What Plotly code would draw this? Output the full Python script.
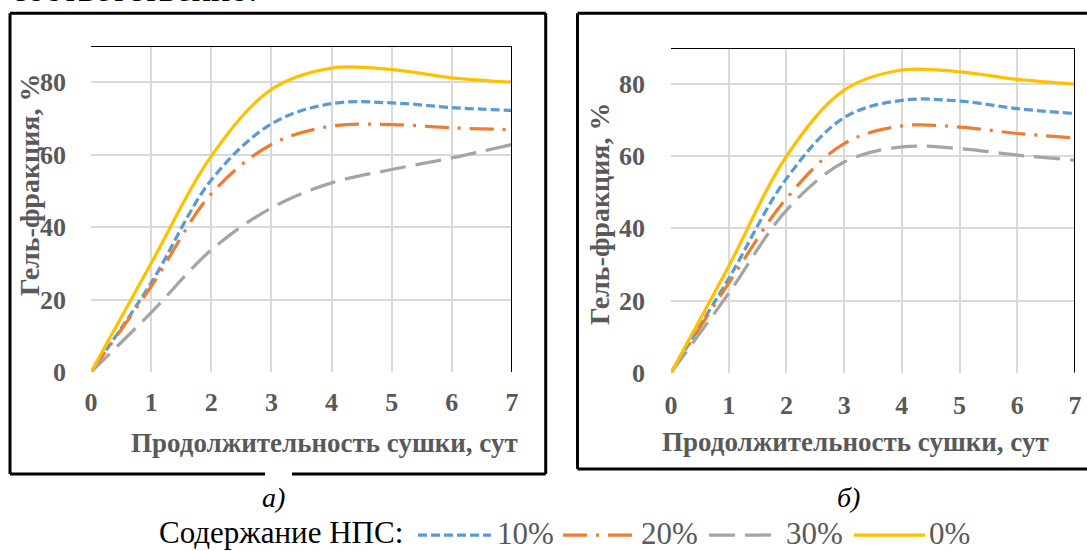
import plotly.graph_objects as go

W, H = 1087, 551

# ---------------- data ----------------
days = [0, 1, 2, 3, 4, 5, 6, 7]
y_ticks = [0, 20, 40, 60, 80]

# panel а)
a_10 = [0, 24.6, 53.0, 68.5, 74.1, 74.3, 73.0, 72.2]
a_20 = [0, 23.6, 49.2, 62.8, 67.9, 68.3, 67.4, 66.9]
a_30 = [0, 16.4, 33.7, 45.3, 52.2, 55.9, 59.1, 62.8]
a_0 = [0, 30.0, 59.6, 78.0, 83.9, 83.5, 81.2, 80.0]

# panel б)
b_10 = [0, 26.1, 53.8, 70.7, 75.5, 75.3, 73.2, 71.8]
b_20 = [0, 24.8, 48.3, 63.5, 68.4, 68.1, 66.3, 65.1]
b_30 = [0, 22.0, 45.0, 58.4, 62.6, 62.1, 60.3, 58.9]
b_0 = [0, 29.5, 60.0, 78.3, 83.9, 83.4, 81.3, 80.0]

series_names = ["10%", "20%", "30%", "0%"]
colors = ["#5B9BD5", "#ED7D31", "#A5A5A5", "#FFC000"]
dashes = ["9px,4px", "24px,9px,3px,9px", "26px,10px", "solid"]

x_title = "Продолжительность сушки, сут"
y_title = "Гель-фракция, %"
legend_title = "Содержание НПС:"
panel_labels = ["а)", "б)"]
top_text = "соответственно."

SERIF = "Liberation Serif"
GRAY_TXT = "#595959"


def px(x):
    return x / W


def py(y):
    return 1 - y / H


fig = go.Figure()

panels = [
    ("x", "y", [a_10, a_20, a_30, a_0]),
    ("x2", "y2", [b_10, b_20, b_30, b_0]),
]
for xa, ya, data in panels:
    for name, vals, col, dsh in zip(series_names, data, colors, dashes):
        fig.add_trace(go.Scatter(
            x=days, y=vals, mode="lines", name=name, showlegend=False,
            line=dict(color=col, width=3.25, dash=dsh, shape="spline", smoothing=1.0),
            xaxis=xa, yaxis=ya, hoverinfo="skip",
        ))

axis_common = dict(
    showgrid=True, gridcolor="#D9D9D9", gridwidth=1.6,
    zeroline=False, showline=False, ticks="", automargin=False,
    tickfont=dict(family=SERIF, size=26, color=GRAY_TXT, weight="bold"),
)

# plot-area boxes in pixels
L = dict(x0=91, x1=512, y0=46, y1=372)
R = dict(x0=671, x1=1075, y0=48, y1=372.7)

fig.update_layout(
    width=W, height=H, autosize=False,
    margin=dict(l=0, r=0, t=0, b=0, pad=0, autoexpand=False),
    paper_bgcolor="white", plot_bgcolor="white",
    showlegend=False,
    xaxis=dict(domain=[px(L["x0"]), px(L["x1"])], range=[0, 7], tickvals=days,
               anchor="y", ticklabelstandoff=12, **axis_common),
    yaxis=dict(domain=[py(L["y1"]), py(L["y0"])], range=[0, 90], tickvals=y_ticks,
               anchor="x", ticklabelstandoff=24, **axis_common),
    xaxis2=dict(domain=[px(R["x0"]), px(R["x1"])], range=[0, 7], tickvals=days,
                anchor="y2", ticklabelstandoff=14, **axis_common),
    yaxis2=dict(domain=[py(R["y1"]), py(R["y0"])], range=[0, 90], tickvals=y_ticks,
                anchor="x2", ticklabelstandoff=25, **axis_common),
)

shapes = []
# black top / right plot borders
for xr, yr in (("x", "y"), ("x2", "y2")):
    shapes.append(dict(type="line", xref=xr, yref=yr, x0=0, x1=7, y0=90, y1=90,
                       line=dict(color="black", width=2)))
    shapes.append(dict(type="line", xref=xr, yref=yr, x0=7, x1=7, y0=0, y1=90,
                       line=dict(color="black", width=2)))


def pline(x0, y0, x1, y1, color="black", width=3, dash="solid"):
    return dict(type="line", xref="paper", yref="paper",
                x0=px(x0), x1=px(x1), y0=py(y0), y1=py(y1),
                line=dict(color=color, width=width, dash=dash))


# outer frames
shapes += [
    pline(10, 13.3, 545.7, 13.3), pline(10, 13.3, 10, 474),
    pline(545.7, 13.3, 545.7, 474),
    pline(10, 474, 265, 474), pline(292, 474, 545.7, 474),
    pline(577.5, 13.3, 1087, 13.3), pline(577.5, 13.3, 577.5, 469),
    pline(577.5, 469, 1087, 469),
]

annotations = []


def ann(text, x, y, size, color="black", bold=False, italic=False, angle=0,
        xanchor="center", yanchor="middle"):
    annotations.append(dict(
        text=text, x=px(x), y=py(y), xref="paper", yref="paper",
        showarrow=False, textangle=angle, xanchor=xanchor, yanchor=yanchor,
        font=dict(family=SERIF, size=size, color=color,
                  weight="bold" if bold else "normal",
                  style="italic" if italic else "normal"),
    ))


# axis titles
ann(y_title, 29, 185, 28, GRAY_TXT, bold=True, angle=-90)
ann(y_title, 599, 214, 28, GRAY_TXT, bold=True, angle=-90)
ann(x_title, 324, 443, 27, GRAY_TXT, bold=True)
ann(x_title, 855, 442, 27, GRAY_TXT, bold=True)

# panel labels
ann(panel_labels[0], 273, 497, 28, italic=True)
ann(panel_labels[1], 848, 497, 28, italic=True)

# top cut text (only its lower part is visible, as in the reference)
ann(top_text, 9, -11, 36, xanchor="left")

# legend
ann(legend_title, 157, 532, 31, xanchor="left")
leg_lines = [(418, 491), (563, 635), (709, 780), (854, 925)]
leg_text_x = [495, 639, 784, 927]
for (x0, x1), tx, name, col, dsh in zip(leg_lines, leg_text_x, series_names, colors, dashes):
    shapes.append(pline(x0, 535, x1, 535, color=col, width=3.25, dash=dsh))
    ann(name, tx, 533, 31, GRAY_TXT, xanchor="left")

fig.update_layout(shapes=shapes, annotations=annotations)
fig.write_html("out.html")
